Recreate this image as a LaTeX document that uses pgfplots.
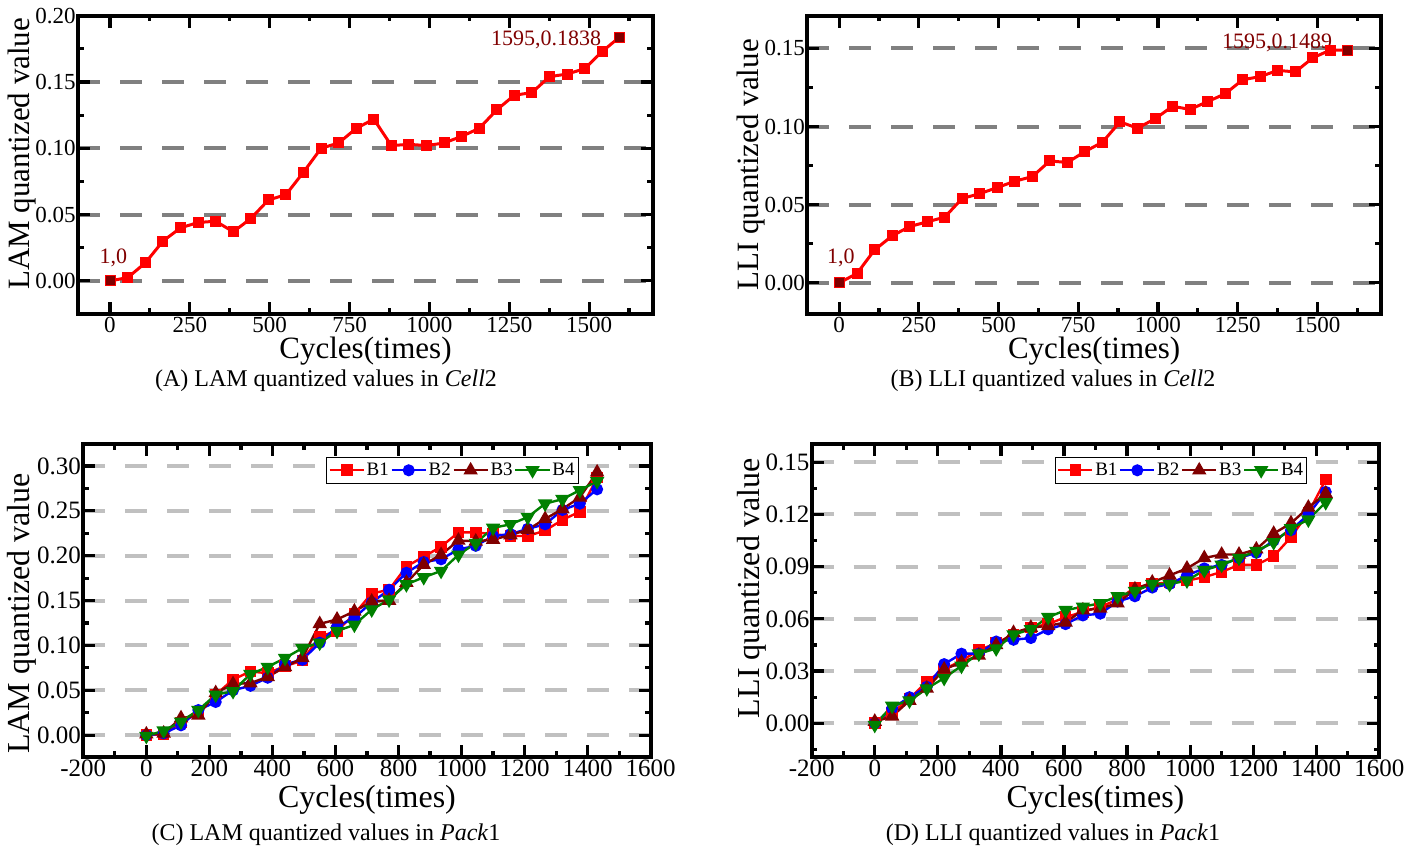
\documentclass[border=0pt]{standalone}
\usepackage{fontspec}
\setmainfont{Liberation Serif}
\usepackage{pgfplots}
\usepackage{pgfplotstable}
\pgfplotsset{compat=1.18}
\definecolor{gridA}{HTML}{808080}
\definecolor{gridC}{HTML}{C0C0C0}
\definecolor{dred}{HTML}{800000}
\definecolor{lred}{HTML}{FF0000}
\definecolor{lblue}{HTML}{0000FF}
\definecolor{lgreen}{HTML}{008000}

\pgfplotstableread{
x b1 b2 b3 b4
0 0 0 0.001 -0.001
55 0.001 0.002 0.002 0.005
110 0.014 0.011 0.019 0.015
165 0.025 0.028 0.022 0.028
220 0.045 0.037 0.047 0.045
275 0.062 0.050 0.057 0.049
330 0.071 0.055 0.058 0.068
385 0.069 0.064 0.065 0.076
440 0.077 0.079 0.076 0.086
495 0.083 0.084 0.086 0.097
550 0.110 0.103 0.124 0.103
605 0.116 0.121 0.129 0.116
660 0.135 0.131 0.138 0.123
715 0.158 0.148 0.149 0.140
770 0.162 0.162 0.150 0.151
825 0.188 0.181 0.170 0.168
880 0.199 0.193 0.190 0.176
935 0.210 0.196 0.201 0.183
990 0.226 0.207 0.217 0.201
1045 0.226 0.211 0.216 0.214
1100 0.224 0.222 0.218 0.231
1155 0.222 0.224 0.223 0.235
1210 0.222 0.230 0.229 0.243
1265 0.228 0.235 0.241 0.258
1320 0.240 0.251 0.252 0.263
1375 0.249 0.258 0.265 0.273
1430 0.287 0.274 0.293 0.283
}\lamtable

\pgfplotstableread{
x b1 b2 b3 b4
0 0 0 0.001 -0.001
55 0.006 0.0086 0.004 0.010
110 0.014 0.015 0.013 0.013
165 0.024 0.021 0.020 0.020
220 0.031 0.034 0.031 0.026
275 0.036 0.040 0.035 0.033
330 0.042 0.040 0.039 0.040
385 0.046 0.047 0.045 0.043
440 0.051 0.048 0.052 0.051
495 0.055 0.049 0.055 0.054
550 0.057 0.054 0.056 0.061
605 0.061 0.057 0.058 0.065
660 0.064 0.062 0.065 0.067
715 0.067 0.063 0.066 0.069
770 0.071 0.070 0.069 0.073
825 0.078 0.073 0.077 0.076
880 0.080 0.078 0.081 0.080
935 0.081 0.080 0.085 0.080
990 0.082 0.085 0.089 0.082
1045 0.084 0.089 0.095 0.088
1100 0.087 0.091 0.097 0.091
1155 0.091 0.095 0.097 0.095
1210 0.091 0.098 0.100 0.099
1265 0.096 0.105 0.109 0.104
1320 0.107 0.111 0.115 0.112
1375 0.121 0.120 0.124 0.117
1430 0.140 0.133 0.132 0.127
}\llitable

\pgfplotsset{
  base/.style={
    scale only axis, anchor=south west,
    axis line style={line width=2pt},
    tick style={black, line width=1.6pt},
    major tick length=6pt,
    ymajorgrids,
    /pgf/number format/assume math mode=true,
    yticklabel style={inner sep=1pt, /pgf/number format/fixed, /pgf/number format/fixed zerofill, /pgf/number format/precision=2},
    xticklabel style={inner sep=1.5pt, /pgf/number format/1000 sep={}},
  },
  abstyle/.style={base,
    xticklabel style={font=\fontsize{11.5}{13}\selectfont},
    yticklabel style={font=\fontsize{11.5}{13}\selectfont},
    grid style={dash pattern=on 11pt off 10pt, line width=2pt, gridA},
    xmin=-100, xmax=1700,
    xtick={0,250,500,750,1000,1250,1500},
    minor xtick={125,375,625,875,1125,1375,1625},
    xlabel={Cycles(times)},
    xlabel style={at={([yshift=-18.5pt]axis description cs:0.5,0)}, anchor=center, inner sep=0pt, font=\fontsize{15.5}{17}\selectfont},
    ylabel style={font=\fontsize{15.5}{17}\selectfont},
  },
  cdstyle/.style={base,
    xticklabel style={font=\fontsize{12.5}{14}\selectfont},
    yticklabel style={font=\fontsize{12.5}{14}\selectfont},
    grid style={dash pattern=on 11pt off 10pt, line width=2pt, gridC},
    xmin=-200, xmax=1600,
    xtick={-200,0,200,400,600,800,1000,1200,1400,1600},
    minor xtick={-100,100,300,500,700,900,1100,1300,1500},
    xlabel={Cycles(times)},
    xlabel style={at={([yshift=-21.5pt]axis description cs:0.5,0)}, anchor=center, inner sep=0pt, font=\fontsize{16}{18}\selectfont},
    ylabel style={font=\fontsize{16}{18}\selectfont},
    legend style={at={(1,1)}, anchor=north east, xshift=-36pt, yshift=-6.5pt,
      legend columns=4, draw=black, line width=0.5pt, inner sep=1pt,
      font=\fontsize{9.5}{10}\selectfont,
      nodes={inner xsep=0.8pt, inner ysep=1.5pt},
      /tikz/column sep=0pt,
      /tikz/every even column/.append style={column sep=0pt}},
    legend cell align=left,
  },
  s1/.style={lred, line width=1.2pt, mark=square*, mark size=2.3pt, mark options={solid}},
  s2/.style={lblue, line width=1.2pt, mark=*, mark size=2.4pt, mark options={solid}},
  s3/.style={dred, line width=1.2pt, mark=triangle*, mark size=3pt, mark options={solid}},
  s4/.style={lgreen, line width=1.2pt, mark=triangle*, mark size=3pt, mark options={solid, rotate=180}},
}

\begin{document}
\begin{tikzpicture}
\useasboundingbox (0,0) rectangle (706.5pt,426.5pt);

% ---------------- (A)
\begin{axis}[abstyle, at={(39pt,269.5pt)}, width=287.5pt, height=149.15pt,
  ymin=-0.025, ymax=0.20,
  ytick={0,0.05,0.10,0.15,0.20},
  minor ytick={0.025,0.075,0.125,0.175},
  ylabel={LAM quantized value},
  ylabel style={at={([xshift=-28pt,yshift=5.5pt]axis description cs:0,0.5)}, anchor=center},
]
\addplot[lred, line width=1.5pt, mark=square*, mark size=2pt] coordinates {
(1,0) (56,0.0025) (111,0.0136) (166,0.030) (221,0.040) (276,0.044) (331,0.045)
(386,0.037) (441,0.047) (496,0.061) (551,0.065) (606,0.082) (661,0.100) (716,0.104)
(771,0.115) (826,0.122) (881,0.102) (936,0.103) (991,0.102) (1046,0.104) (1101,0.109)
(1156,0.115) (1211,0.129) (1266,0.140) (1321,0.142) (1376,0.154) (1431,0.156)
(1486,0.160) (1541,0.173) (1595,0.1838)};
\addplot[only marks, dred, mark=square*, mark size=2pt] coordinates {(1,0) (1595,0.1838)};
\node[dred, anchor=south, inner sep=0pt, font=\fontsize{11}{12}\selectfont, yshift=6.8pt, xshift=1.5pt] at (axis cs:1,0) {1,0};
\node[dred, anchor=east, inner sep=0pt, font=\fontsize{11}{12}\selectfont, xshift=-9pt, yshift=-1.3pt] at (axis cs:1595,0.1838) {1595,0.1838};
\end{axis}

% ---------------- (B)
\begin{axis}[abstyle, at={(403.65pt,269.5pt)}, width=286.85pt, height=149.15pt,
  ymin=-0.02, ymax=0.171,
  ytick={0,0.05,0.10,0.15},
  minor ytick={0.025,0.075,0.125},
  ylabel={LLI quantized value},
  ylabel style={at={([xshift=-28pt]axis description cs:0,0.5)}, anchor=center},
]
\addplot[lred, line width=1.5pt, mark=square*, mark size=2pt] coordinates {
(1,0) (56,0.006) (111,0.021) (166,0.030) (221,0.036) (276,0.039) (331,0.042)
(386,0.054) (441,0.057) (496,0.061) (551,0.065) (606,0.068) (661,0.078) (716,0.077)
(771,0.084) (826,0.090) (881,0.103) (936,0.099) (991,0.105) (1046,0.113) (1101,0.111)
(1156,0.116) (1211,0.121) (1266,0.130) (1321,0.132) (1376,0.136) (1431,0.135)
(1486,0.144) (1541,0.149) (1595,0.1489)};
\addplot[only marks, dred, mark=square*, mark size=2pt] coordinates {(1,0) (1595,0.1489)};
\node[dred, anchor=south, inner sep=0pt, font=\fontsize{11}{12}\selectfont, yshift=7.5pt, xshift=0.7pt] at (axis cs:1,0) {1,0};
\node[dred, anchor=south east, inner sep=0pt, font=\fontsize{11}{12}\selectfont, xshift=-7.5pt, yshift=-1pt] at (axis cs:1595,0.1489) {1595,0.1489};
\end{axis}

% ---------------- (C)
\begin{axis}[cdstyle, at={(41.65pt,48.15pt)}, width=283.7pt, height=156.35pt,
  ymin=-0.024, ymax=0.3245,
  ytick={0,0.05,0.10,0.15,0.20,0.25,0.30},
  minor ytick={0.025,0.075,0.125,0.175,0.225,0.275},
  ylabel={LAM quantized value},
  ylabel style={at={([xshift=-30.5pt,yshift=-6.5pt]axis description cs:0,0.5)}, anchor=center},
]
\addplot[s1] table[x=x, y=b1] {\lamtable};
\addplot[s2] table[x=x, y=b2] {\lamtable};
\addplot[s3] table[x=x, y=b3] {\lamtable};
\addplot[s4] table[x=x, y=b4] {\lamtable};
\legend{B1,B2,B3,B4}
\end{axis}

% ---------------- (D)
\begin{axis}[cdstyle, at={(405.85pt,48.15pt)}, width=283.8pt, height=156.35pt,
  ymin=-0.0192, ymax=0.1605,
  ytick={0,0.03,0.06,0.09,0.12,0.15},
  minor ytick={-0.015,0.015,0.045,0.075,0.105,0.135},
  ylabel={LLI quantized value},
  ylabel style={at={([xshift=-30pt,yshift=6pt]axis description cs:0,0.5)}, anchor=center},
]
\addplot[s1] table[x=x, y=b1] {\llitable};
\addplot[s2] table[x=x, y=b2] {\llitable};
\addplot[s3] table[x=x, y=b3] {\llitable};
\addplot[s4] table[x=x, y=b4] {\llitable};
\legend{B1,B2,B3,B4}
\end{axis}

% captions
\node[font=\fontsize{12}{14}\selectfont] at (163pt,236pt) {(A) LAM quantized values in \textit{Cell}2};
\node[font=\fontsize{12}{14}\selectfont] at (526.5pt,236pt) {(B) LLI quantized values in \textit{Cell}2};
\node[font=\fontsize{12}{14}\selectfont] at (163pt,9pt) {(C) LAM quantized values in \textit{Pack}1};
\node[font=\fontsize{12}{14}\selectfont] at (526.5pt,9pt) {(D) LLI quantized values in \textit{Pack}1};
\end{tikzpicture}
\end{document}
